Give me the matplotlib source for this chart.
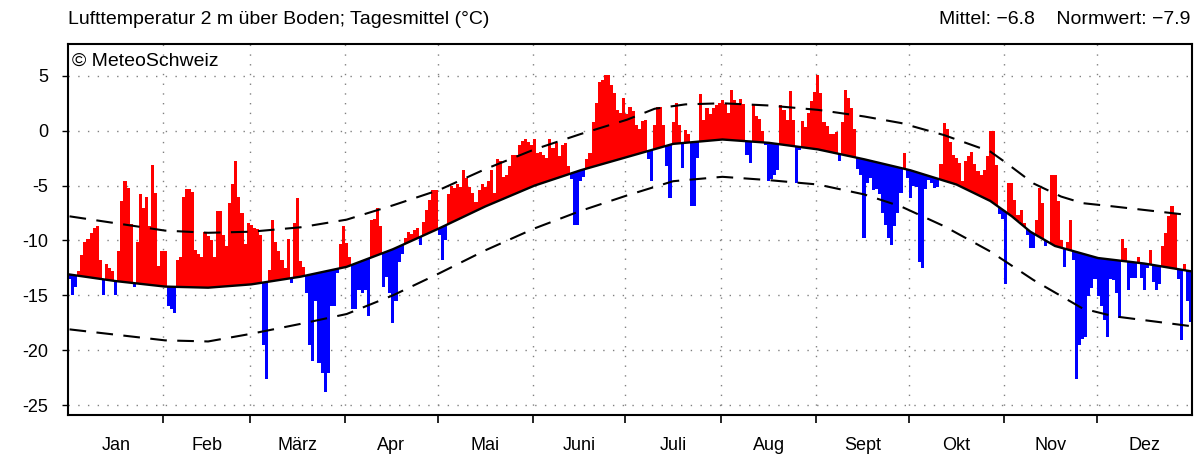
import numpy as np
import matplotlib
matplotlib.use('Agg')
import matplotlib.pyplot as plt
from matplotlib.ticker import FixedLocator, NullFormatter, FixedFormatter

plt.rcParams['font.family'] = ['Liberation Sans', 'DejaVu Sans']

months = ['Jan', 'Feb', 'März', 'Apr', 'Mai', 'Juni', 'Juli', 'Aug', 'Sept', 'Okt', 'Nov', 'Dez']
month_days = [31, 28, 31, 30, 31, 30, 31, 31, 30, 31, 30, 31]

# daily mean temperatures (°C), one list per month
t_jan = [-13.5, -15.0, -14.2, -12.8, -11.3, -10.1, -9.9, -9.3, -8.9, -8.7, -11.8, -15.0, -12.1, -12.5, -12.8, -15.0,
         -11.0, -6.4, -4.6, -5.2, -8.5, -14.2, -10.1, -5.8, -7.0, -6.0, -8.7, -3.1, -5.7, -12.3, -11.0]
t_feb = [-11.0, -16.0, -16.2, -16.6, -11.8, -11.5, -6.0, -5.3, -5.3, -5.6, -10.9, -11.2, -11.5, -9.2, -9.6, -10.0,
         -11.5, -7.3, -7.3, -9.5, -10.5, -6.6, -4.9, -2.8, -6.0, -7.5, -10.3, -8.4]
t_mar = [-8.6, -8.9, -9.0, -9.5, -19.5, -22.6, -12.7, -8.1, -10.1, -11.0, -11.8, -12.5, -9.9, -13.9, -8.4, -6.1,
         -11.9, -12.4, -14.8, -19.5, -21.0, -15.5, -21.2, -22.1, -23.8, -22.1, -16.0, -16.0, -13.0, -10.3, -8.7]
t_apr = [-10.2, -11.5, -16.2, -16.2, -14.5, -14.8, -14.5, -16.9, -8.1, -8.0, -7.0, -8.7, -14.2, -13.3, -14.8, -17.5,
         -15.5, -12.0, -11.2, -9.8, -9.2, -9.4, -9.0, -8.9, -10.4, -8.3, -7.2, -6.3, -5.4, -5.4]
t_may = [-9.5, -11.8, -10.0, -5.8, -5.0, -5.2, -4.9, -5.1, -3.6, -4.3, -5.1, -5.7, -6.5, -5.4, -4.9, -5.1,
         -4.6, -3.6, -5.7, -2.6, -2.8, -4.2, -4.0, -3.2, -2.2, -2.2, -1.3, -0.9, -0.8, -1.0, -1.3]
t_jun = [-0.8, -2.0, -1.9, -2.2, -2.5, -0.8, -1.6, -1.1, -2.3, -1.3, -1.1, -3.2, -4.4, -8.6, -8.6, -4.6,
         -4.2, -2.6, -2.0, 0.8, 2.5, 4.4, 4.6, 5.1, 5.1, 4.2, 3.4, 1.9, 1.6, 3.0]
t_jul = [1.5, 2.2, 1.8, 0.5, 0.2, 0.9, 1.0, -2.6, -4.6, 0.5, 2.2, 2.2, 0.5, -3.2, -6.1, 0.8,
         2.5, 0.5, -3.4, 0.1, -0.3, -6.9, -6.9, -2.5, 3.3, 1.0, 2.1, 1.5, 2.1, 2.3, 2.5]
t_aug = [2.8, 2.4, 1.6, 3.7, 2.8, 2.4, 2.9, 2.4, -2.2, -2.9, 2.3, 1.3, 1.1, 0.0, -1.3, -4.6,
         -4.4, -4.0, -3.6, 2.3, 1.9, 1.0, 3.6, 1.0, -4.8, -1.8, 0.9, 0.3, 1.6, 2.7, 3.5]
t_sep = [5.1, 3.4, 0.8, 0.4, -0.3, -0.3, -0.1, -2.8, 0.8, 3.7, 3.0, 2.1, 0.2, -3.5, -4.0, -9.8,
         -4.8, -4.3, -5.4, -5.3, -5.8, -7.5, -8.6, -9.8, -10.4, -8.7, -7.5, -5.7, -2.0, -4.3]
t_oct = [-6.1, -5.0, -5.1, -12.0, -12.5, -5.3, -4.5, -4.8, -5.2, -5.1, -3.0, 0.7, 0.2, -1.0, -2.2, -2.5,
         -2.9, -4.6, -2.8, -2.3, -1.9, -3.0, -3.7, -4.0, -3.6, -2.3, 0.0, 0.0, -3.1, -7.6, -8.0]
t_nov = [-14.0, -4.8, -4.8, -6.3, -7.7, -7.2, -8.4, -9.5, -10.7, -10.7, -8.1, -5.2, -6.6, -10.5, -10.2, -4.0,
         -4.0, -6.4, -10.0, -12.4, -10.1, -8.1, -11.8, -22.6, -19.5, -19.0, -18.8, -15.1, -14.3, -13.5]
t_dec = [-15.1, -16.0, -17.2, -18.8, -13.5, -13.6, -14.8, -17.1, -9.9, -10.7, -14.5, -13.4, -13.4, -11.5, -13.4, -14.5,
         -12.5, -10.9, -13.8, -14.5, -14.0, -10.5, -9.3, -7.8, -6.9, -7.5, -13.5, -19.1, -12.1, -15.5, -17.4]

# climatological norm and its band (day of year, value)
norm_days = [0, 15, 31, 45, 59, 75, 90, 105, 120, 135, 151, 166, 181, 196, 212, 227, 243, 258, 273, 288, 299,
             306, 312, 320, 334, 349, 364]
norm_vals = [-13.1, -13.7, -14.2, -14.3, -14.0, -13.3, -12.4, -10.8, -8.9, -6.9, -5.0, -3.6, -2.4, -1.2, -0.8, -1.1,
             -1.7, -2.6, -3.6, -4.9, -6.4, -7.8, -9.2, -10.5, -11.6, -12.1, -12.8]
upper_days = [0, 31, 45, 59, 75, 90, 105, 120, 135, 151, 166, 181, 190, 200, 212, 227, 243, 258, 270, 284, 299,
              304, 313, 322, 329, 339, 364]
upper_vals = [-7.8, -9.1, -9.3, -9.2, -8.8, -8.1, -6.8, -5.4, -3.5, -1.7, -0.3, 1.0, 2.0, 2.4, 2.5, 2.3,
              1.9, 1.3, 0.7, -0.4, -1.9, -2.9, -4.8, -6.0, -6.6, -6.9, -7.7]
lower_days = [0, 31, 45, 59, 75, 90, 105, 120, 135, 151, 166, 181, 196, 212, 227, 243, 258, 270, 284, 299, 313,
              329, 339, 364]
lower_vals = [-18.1, -19.1, -19.2, -18.5, -17.6, -16.7, -15.0, -13.0, -10.9, -8.9, -7.3, -5.9, -4.6, -4.2, -4.5,
              -4.9, -5.8, -6.9, -8.7, -11.0, -13.6, -16.2, -16.9, -17.8]

temps = np.array(t_jan + t_feb + t_mar + t_apr + t_may + t_jun + t_jul + t_aug + t_sep + t_oct + t_nov + t_dec)
days = np.arange(len(temps))
base = np.interp(days, norm_days, norm_vals)
colors = np.where(temps >= base, '#ff0000', '#0000ff')

W, H = 1199, 462
fig = plt.figure(figsize=(W / 100, H / 100), dpi=100)
ax = fig.add_axes([68 / W, 1 - 415 / H, (1192 - 68) / W, (415 - 44) / H])

ax.bar(days + 0.5, temps - base, bottom=base, width=1.0, color=colors, linewidth=0, zorder=2)
ax.plot(np.array(norm_days) + 0.5, norm_vals, color='black', lw=1.7, zorder=3, solid_joinstyle='round')
ax.plot(np.array(upper_days) + 0.5, upper_vals, color='black', lw=1.5, ls=(0, (8, 5)), zorder=3)
ax.plot(np.array(lower_days) + 0.5, lower_vals, color='black', lw=1.5, ls=(0, (8, 5)), zorder=3)

ax.set_xlim(0, 365)
ax.set_ylim(-25.9, 7.9)

starts = np.concatenate([[0], np.cumsum(month_days)])
centers = (starts[:-1] + starts[1:]) / 2
ax.xaxis.set_major_locator(FixedLocator(starts[1:-1]))
ax.xaxis.set_major_formatter(NullFormatter())
ax.xaxis.set_minor_locator(FixedLocator(centers))
ax.xaxis.set_minor_formatter(FixedFormatter(months))
ax.tick_params(axis='x', which='major', length=6, width=1.2, direction='out')
ax.tick_params(axis='x', which='minor', length=0, labelsize=13, pad=16)

yt = [5, 0, -5, -10, -15, -20, -25]
ax.set_yticks(yt)
ax.set_yticklabels([str(v) for v in yt])
ax.tick_params(axis='y', length=4, width=1, direction='out', labelsize=13, pad=10)

for s in starts[1:-1]:
    ax.axvline(s, color='#808080', lw=1.0, ls=(0, (1, 6)), zorder=1)
for v in yt:
    ax.axhline(v, color='#808080', lw=1.0, ls=(0, (1, 6)), zorder=1)

for sp in ax.spines.values():
    sp.set_linewidth(1.5)

ax.text(0.004, 0.975, '© MeteoSchweiz', transform=ax.transAxes, ha='left', va='top', fontsize=14)
fig.text(68 / W, 1 - 20 / H, 'Lufttemperatur 2 m über Boden; Tagesmittel (°C)', ha='left', va='center', fontsize=14)
fig.text(1190 / W, 1 - 20 / H, 'Mittel: \u22126.8    Normwert: \u22127.9', ha='right', va='center', fontsize=14)

fig.savefig('out.png', dpi=100)
